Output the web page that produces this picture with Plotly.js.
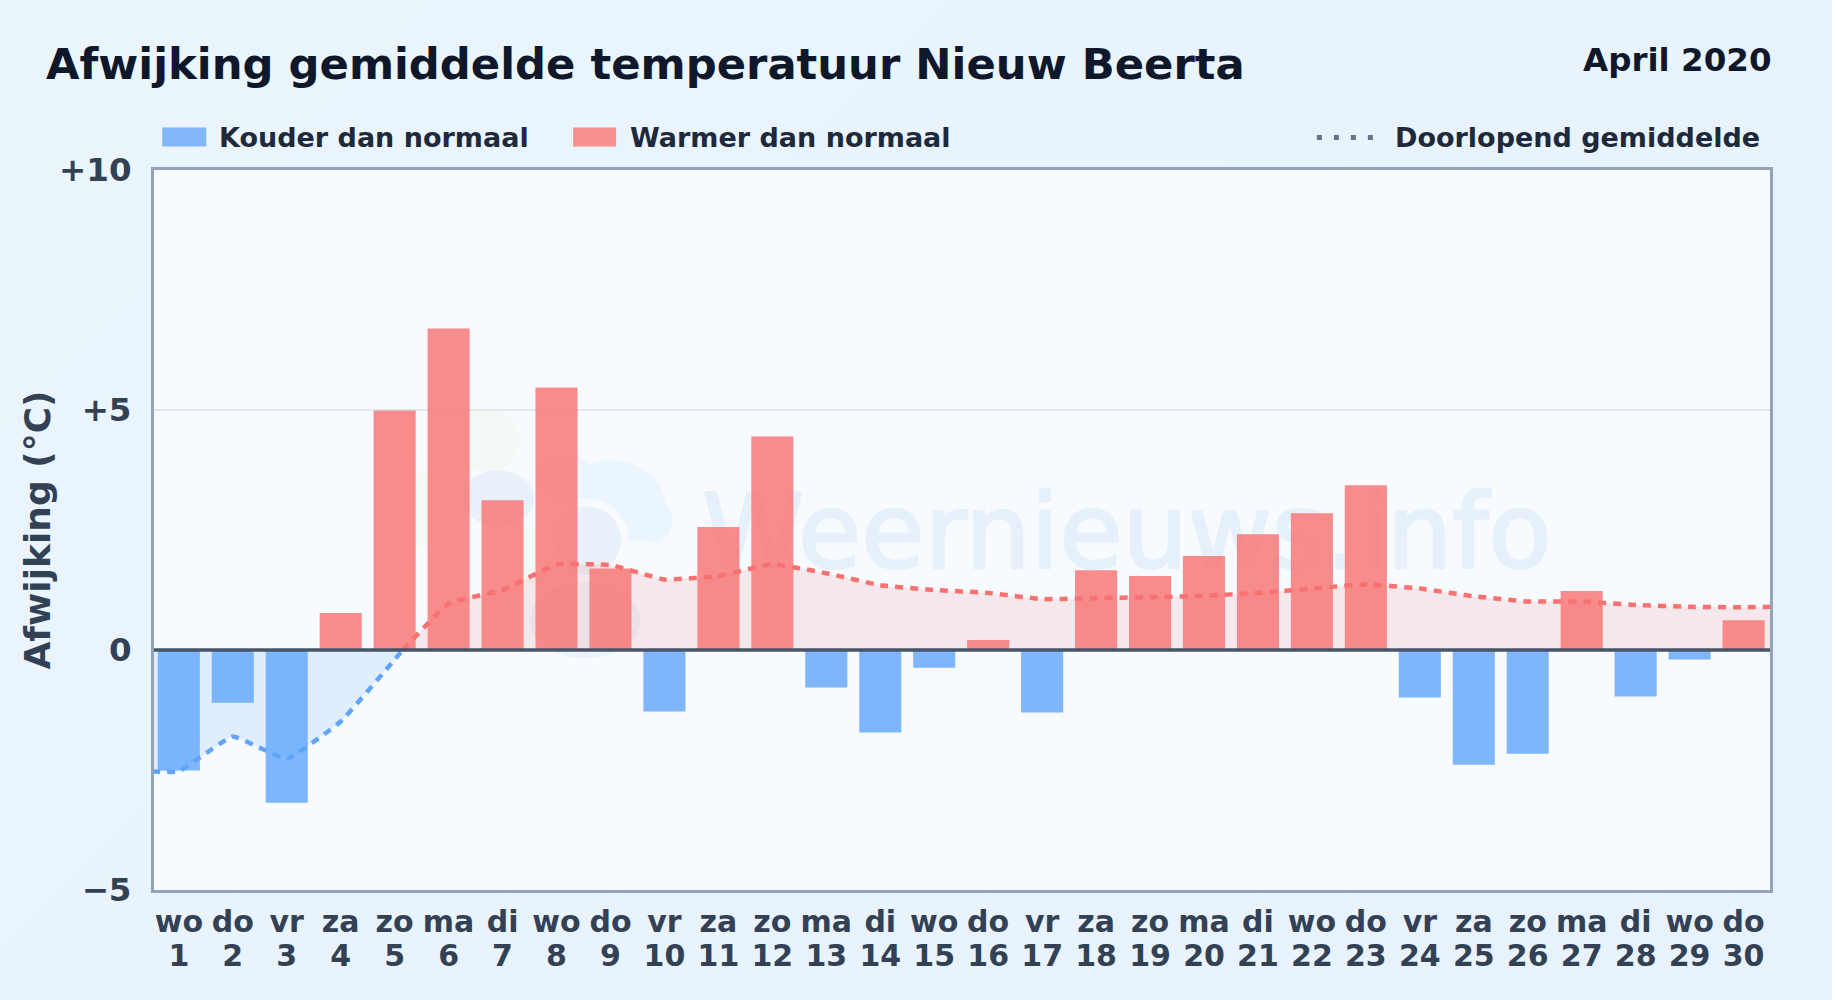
<!DOCTYPE html>
<html>
<head>
<meta charset="utf-8">
<script src="https://cdn.plot.ly/plotly-3.0.1.min.js"></script>
<style>
html,body{margin:0;padding:0;width:1832px;height:1000px;overflow:hidden;background:linear-gradient(135deg,#ebf5fc 0%,#e8f3fc 50%,#e8f2fc 100%);}
#chart{width:1832px;height:1000px;}
</style>
</head>
<body>
<div id="chart"></div>
<script>
const days = [1,2,3,4,5,6,7,8,9,10,11,12,13,14,15,16,17,18,19,20,21,22,23,24,25,26,27,28,29,30];
const weekdays = ["wo","do","vr","za","zo","ma","di","wo","do","vr","za","zo","ma","di","wo","do","vr","za","zo","ma","di","wo","do","vr","za","zo","ma","di","wo","do"];
const deviation = [-2.51,-1.10,-3.18,0.77,4.99,6.70,3.12,5.47,1.70,-1.28,2.56,4.45,-0.78,-1.72,-0.37,0.21,-1.30,1.66,1.54,1.96,2.41,2.85,3.43,-0.99,-2.39,-2.16,1.23,-0.97,-0.20,0.62];
const avgColdX = [0.5,1,2,3,4,5,5.15];
const avgColdY = [-2.53,-2.53,-1.80,-2.27,-1.49,-0.2,0];
const avgWarmX = [5.15,6,7,8,9,10,11,12,13,14,15,16,17,18,19,20,21,22,23,24,25,26,27,28,29,30,30.5];
const avgWarmY = [0,0.97,1.25,1.78,1.77,1.47,1.54,1.79,1.60,1.35,1.25,1.19,1.06,1.08,1.10,1.13,1.19,1.28,1.37,1.28,1.12,1.01,1.01,0.94,0.90,0.89,0.90];
const yTickVals = [-5,0,5,10];
const yTickText = ["−5","0","+5","+10"];
const titleText = "Afwijking gemiddelde temperatuur Nieuw Beerta";
const periodText = "April 2020";
const legendCold = "Kouder dan normaal";
const legendWarm = "Warmer dan normaal";
const legendAvg = "Doorlopend gemiddelde";
const yTitle = "Afwijking (°C)";
const watermark = "Weernieuws.info";

const W=1832,H=1000,L=153.75,R=1770.25,T=169.5,B=890;
const xRange=[0.54,30.49], yRange=[-5,10];
const fx=p=>(p-L)/(R-L), fy=p=>(B-p)/(B-T);
const font="'DejaVu Sans', sans-serif";
const coldDays=days.filter((d,i)=>deviation[i]<0), coldVals=deviation.filter(v=>v<0);
const warmDays=days.filter((d,i)=>deviation[i]>=0), warmVals=deviation.filter(v=>v>=0);
const ticks=days.map((d,i)=>weekdays[i]+"<br>"+d);

const bar=(name,x,y,c)=>({type:'bar',name,x,y,xaxis:'x2',yaxis:'y2',width:0.78,marker:{color:c,line:{width:0}}});
const fillArea=(x,y,c)=>({type:'scatter',mode:'lines',x,y,fill:'tozeroy',fillcolor:c,line:{width:0,shape:'spline',smoothing:0.3}});
const avgLine=(name,x,y,c)=>({type:'scatter',mode:'lines',name,x,y,xaxis:'x2',yaxis:'y2',
  line:{color:c,width:4.5,dash:'8px,7px',shape:'spline',smoothing:0.3}});
const traces=[
  {type:'scatter',mode:'text',x:[10.7],y:[2.25],text:[watermark],textposition:'middle right',opacity:0.08,
    textfont:{family:font,size:103,color:'#1e78c8'}},
  fillArea(avgColdX,avgColdY,'rgba(59,140,246,0.12)'),
  fillArea(avgWarmX,avgWarmY,'rgba(239,68,68,0.10)'),
  bar(legendCold,coldDays,coldVals,'rgba(96,165,250,0.8)'),
  bar(legendWarm,warmDays,warmVals,'rgba(248,113,113,0.8)'),
  avgLine('Gemiddelde koud',avgColdX,avgColdY,'#60a5fa'),
  avgLine(legendAvg,avgWarmX,avgWarmY,'#f87171')
];

const blob=(cx,cy,rx,ry,c)=>({type:'circle',xref:'paper',yref:'paper',layer:'below',
  x0:fx(cx-rx),x1:fx(cx+rx),y0:fy(cy+ry),y1:fy(cy-ry),fillcolor:c,line:{width:0}});
const logo=[
  blob(487,440,32,32,'#f3f9f5'),blob(420,510,38,38,'#f3f9f5'),blob(530,555,28,28,'#f3f9f5'),
  blob(610,505,55,45,'#eaf5fd'),blob(650,520,22,24,'#eaf5fd'),blob(565,475,28,22,'#eaf5fd'),
  blob(498,498,36,28,'#e8f1f9'),
  blob(587,540,42,42,'#f7fbff'),blob(587,540,34,34,'#e8f1f9'),
  blob(585,620,55,38,'#ebf2f9'),blob(640,560,24,20,'#f7fbff')
];
const swatch=(x0,x1,c)=>({type:'rect',xref:'paper',yref:'paper',x0:fx(x0),x1:fx(x1),y0:fy(146),y1:fy(127),fillcolor:c,line:{width:0}});
const shapes=logo.concat([
  swatch(162,206,'#82b6fb'),swatch(573,616,'#f79090'),
  {type:'line',xref:'paper',yref:'paper',x0:fx(1317),x1:fx(1375),y0:fy(137),y1:fy(137),line:{color:'#64748b',width:5,dash:'5px,12px'}},
  {type:'line',xref:'paper',yref:'y',x0:0,x1:1,y0:0,y1:0,layer:'above',line:{color:'#475569',width:3.6}}
]);
const note=(text,x,y,size,color,anchor)=>({text,xref:'paper',yref:'paper',x:fx(x),y:fy(y),xanchor:anchor,yanchor:'middle',
  showarrow:false,font:{family:font,size,color,weight:700},borderpad:0,borderwidth:0});
const annotations=[
  note(periodText,1772,59,32.5,'#0f172a','right'),
  note(legendCold,219,136.5,27,'#1e293b','left'),
  note(legendWarm,630,136.5,27,'#1e293b','left'),
  note(legendAvg,1395,136.5,27,'#1e293b','left')
];
const layout={
  width:W,height:H,showlegend:false,barmode:'overlay',
  paper_bgcolor:'rgba(0,0,0,0)',plot_bgcolor:'#f7fbff',
  margin:{l:L,r:W-R,t:T,b:H-B,pad:0},
  font:{family:font},
  title:{text:titleText,x:46/W,xanchor:'left',xref:'container',y:1-63.5/H,yanchor:'middle',yref:'container',
    font:{family:font,size:43.3,color:'#0f172a',weight:700},pad:{t:0,b:0,l:0,r:0}},
  xaxis:{range:xRange,tickmode:'array',tickvals:days,ticktext:ticks,showgrid:false,zeroline:false,
    showline:true,mirror:true,linecolor:'#94a3b8',linewidth:3,ticks:'outside',ticklen:3,tickcolor:'rgba(0,0,0,0)',automargin:false,
    tickangle:0,tickfont:{family:font,size:30,color:'#334155',weight:700}},
  yaxis:{range:yRange,tickmode:'array',tickvals:yTickVals,ticktext:yTickText,showgrid:true,gridcolor:'#e2e8f0',gridwidth:2,
    zeroline:false,showline:true,mirror:true,linecolor:'#94a3b8',linewidth:3,
    ticks:'outside',ticklen:13,tickcolor:'rgba(0,0,0,0)',automargin:false,tickfont:{family:font,size:32.5,color:'#334155',weight:700},
    title:{text:yTitle,standoff:1,font:{family:font,size:36,color:'#334155',weight:700}}},
  xaxis2:{range:xRange,overlaying:'x',visible:false},
  yaxis2:{range:yRange,overlaying:'y',visible:false},
  shapes,annotations
};
Plotly.newPlot('chart',traces,layout,{displayModeBar:false,staticPlot:true}).then(()=>{
  document.querySelectorAll('.xtick text').forEach(el=>{
    const lines=el.querySelectorAll('tspan.line');
    if(lines.length>1){lines[1].setAttribute('dy','34px');}
  });
  document.querySelectorAll('.ytitle').forEach(el=>{
    el.setAttribute('transform','translate(3,0) '+(el.getAttribute('transform')||''));
  });
  document.querySelectorAll('.textpoint text').forEach(el=>{el.style.stroke='#1e78c8';el.style.strokeWidth='2.5px';});
});
</script>
</body>
</html>
